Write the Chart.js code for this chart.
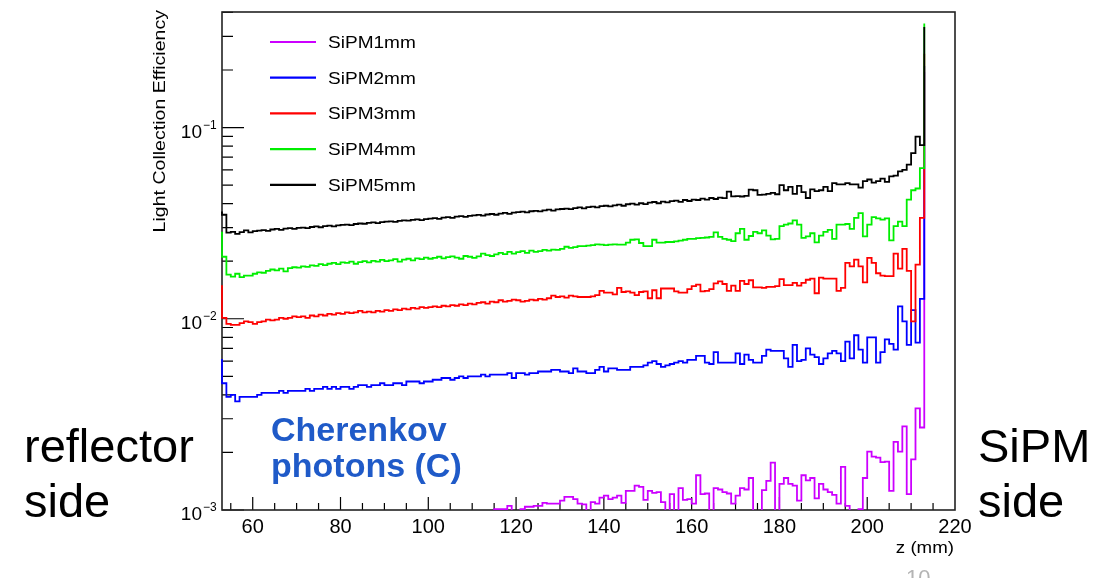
<!DOCTYPE html>
<html>
<head>
<meta charset="utf-8">
<title>Light Collection Efficiency</title>
<script src="https://cdn.jsdelivr.net/npm/chart.js@4.4.1/dist/chart.umd.min.js"></script>
<style>
  html, body { margin: 0; padding: 0; background: #fff; }
  #wrap { position: relative; width: 1102px; height: 578px; overflow: hidden; }
  #lceChart { position: absolute; left: 0; top: 0; }
  .note { position: absolute; font-family: 'Liberation Sans', Arial, sans-serif; white-space: nowrap; color: #000; }
  .side { font-size: 47px; line-height: 55px; }
  .cher { font-size: 34px; line-height: 36px; font-weight: bold; color: #1f5ac8; }
  .page { font-size: 22px; line-height: 22px; color: #b4b4b4; }
</style>
</head>
<body>
<div id="wrap">
  <canvas id="lceChart" width="1102" height="578"></canvas>
  <div class="note side" style="left:24px; top:418px;">reflector<br>side</div>
  <div class="note side" style="left:978px; top:418px;">SiPM<br>side</div>
  <div class="note cher" style="left:271px; top:411px;">Cherenkov<br>photons (C)</div>
  <div class="note page" style="left:906px; top:567px;">10</div>
</div>
<script>
// histogram bins are 1 mm wide, first bin starts at z = 52 mm
const firstEdge = 52;

const seriesNames = ['SiPM1mm', 'SiPM2mm', 'SiPM3mm', 'SiPM4mm', 'SiPM5mm'];
const seriesColors = ['#cc00ff', '#0000ff', '#ff0000', '#00ee00', '#000000'];

const xTickValues = [60, 80, 100, 120, 140, 160, 180, 200, 220];
const yTickValues = [0.001, 0.01, 0.1];

// SiPM1mm (mostly below 1e-3 up to z ~ 115)
const sipm1 = [
  0.00090, 0.00078, 0.00076, 0.00075, 0.00077, 0.00076, 0.00078, 0.00077, 0.00079, 0.00078,
  0.00080, 0.00079, 0.00081, 0.00080, 0.00082, 0.00081, 0.00083, 0.00082, 0.00083, 0.00084,
  0.00083, 0.00085, 0.00084, 0.00086, 0.00085, 0.00087, 0.00086, 0.00088, 0.00087, 0.00088,
  0.00089, 0.00088, 0.00090, 0.00089, 0.00091, 0.00090, 0.00092, 0.00091, 0.00092, 0.00093,
  0.00092, 0.00094, 0.00093, 0.00094, 0.00095, 0.00094, 0.00096, 0.00095, 0.00096, 0.00097,
  0.00096, 0.00097, 0.00098, 0.00097, 0.00098, 0.00099, 0.00098, 0.00099, 0.00098, 0.00099,
  0.00099, 0.00098, 0.00099, 0.00101, 0.00101, 0.00101, 0.00105, 0.00099, 0.00099, 0.00101,
  0.00104, 0.00104, 0.00105, 0.00105, 0.00109, 0.00108, 0.00108, 0.00108, 0.00112, 0.00117,
  0.00117, 0.00114, 0.00108, 0.00107, 0.00098, 0.00110, 0.00108, 0.00116, 0.00119, 0.00114,
  0.00116, 0.00119, 0.00109, 0.00126, 0.00126, 0.00134, 0.00132, 0.00113, 0.00126, 0.00123,
  0.00124, 0.00110, 0.00095, 0.00121, 0.00090, 0.00130, 0.00113, 0.00114, 0.00108, 0.00152,
  0.00121, 0.00122, 0.00090, 0.00130, 0.00128, 0.00124, 0.00122, 0.00108, 0.00119, 0.00130,
  0.00128, 0.00147, 0.00090, 0.00090, 0.00127, 0.00142, 0.00177, 0.00090, 0.00137, 0.00147,
  0.00137, 0.00134, 0.00112, 0.00152, 0.00143, 0.00147, 0.00115, 0.00137, 0.00128, 0.00124,
  0.00120, 0.00108, 0.00168, 0.00105, 0.00090, 0.00098, 0.00101, 0.00147, 0.00202, 0.00190,
  0.00188, 0.00178, 0.00179, 0.00126, 0.00227, 0.00202, 0.00274, 0.00121, 0.00184, 0.00340,
  0.00270, 0.19500
];

const sipm2 = [
  0.0061, 0.0046, 0.0039, 0.0040, 0.0037, 0.0039, 0.0039, 0.0039, 0.0039, 0.0040,
  0.0041, 0.0041, 0.0041, 0.0041, 0.0042, 0.0041, 0.0042, 0.0042, 0.0042, 0.0042,
  0.0043, 0.0042, 0.0043, 0.0043, 0.0044, 0.0043, 0.0044, 0.0043, 0.0044, 0.0044,
  0.0043, 0.0044, 0.0045, 0.0045, 0.0044, 0.0045, 0.0045, 0.0046, 0.0045, 0.0045,
  0.0046, 0.0046, 0.0045, 0.0047, 0.0047, 0.0047, 0.0046, 0.0047, 0.0047, 0.0048,
  0.0048, 0.0049, 0.0049, 0.0048, 0.0049, 0.0050, 0.0049, 0.0050, 0.0050, 0.0050,
  0.0051, 0.0050, 0.0051, 0.0051, 0.0051, 0.0051, 0.0052, 0.0049, 0.0052, 0.0052,
  0.0051, 0.0052, 0.0052, 0.0053, 0.0053, 0.0053, 0.0054, 0.0054, 0.0053, 0.0053,
  0.0052, 0.0055, 0.0053, 0.0053, 0.0052, 0.0052, 0.0054, 0.0056, 0.0053, 0.0055,
  0.0055, 0.0054, 0.0054, 0.0054, 0.0056, 0.0056, 0.0056, 0.0057, 0.0059, 0.0060,
  0.0058, 0.0056, 0.0057, 0.0058, 0.0059, 0.0060, 0.0059, 0.0061, 0.0061, 0.0064,
  0.0064, 0.0059, 0.0058, 0.0067, 0.0059, 0.0059, 0.0059, 0.0059, 0.0066, 0.0058,
  0.0065, 0.0061, 0.0059, 0.0059, 0.0064, 0.0069, 0.0068, 0.0068, 0.0068, 0.0062,
  0.0056, 0.0073, 0.0060, 0.0061, 0.0070, 0.0065, 0.0063, 0.0058, 0.0062, 0.0066,
  0.0068, 0.0066, 0.0060, 0.0076, 0.0062, 0.0082, 0.0069, 0.0059, 0.0080, 0.0080,
  0.0059, 0.0067, 0.0078, 0.0074, 0.0069, 0.0116, 0.0097, 0.0073, 0.0111, 0.0075,
  0.0127, 0.2100
];

const sipm3 = [
  0.0148, 0.0101, 0.0094, 0.0093, 0.0093, 0.0095, 0.0097, 0.0096, 0.0094, 0.0096,
  0.0097, 0.0099, 0.0098, 0.0099, 0.0101, 0.0100, 0.0101, 0.0103, 0.0102, 0.0103,
  0.0101, 0.0104, 0.0103, 0.0105, 0.0104, 0.0106, 0.0105, 0.0107, 0.0106, 0.0108,
  0.0107, 0.0108, 0.0110, 0.0108, 0.0109, 0.0108, 0.0110, 0.0109, 0.0111, 0.0110,
  0.0112, 0.0111, 0.0113, 0.0112, 0.0114, 0.0113, 0.0115, 0.0114, 0.0115, 0.0116,
  0.0115, 0.0117, 0.0116, 0.0118, 0.0117, 0.0119, 0.0118, 0.0120, 0.0119, 0.0121,
  0.0122, 0.0120, 0.0123, 0.0122, 0.0125, 0.0123, 0.0124, 0.0126, 0.0125, 0.0123,
  0.0124, 0.0126, 0.0125, 0.0127, 0.0126, 0.0128, 0.0132, 0.0130, 0.0131, 0.0129,
  0.0132, 0.0131, 0.0130, 0.0130, 0.0130, 0.0131, 0.0133, 0.0140, 0.0137, 0.0137,
  0.0134, 0.0145, 0.0138, 0.0139, 0.0137, 0.0133, 0.0138, 0.0139, 0.0128, 0.0141,
  0.0128, 0.0144, 0.0144, 0.0144, 0.0139, 0.0137, 0.0137, 0.0143, 0.0148, 0.0151,
  0.0139, 0.0140, 0.0143, 0.0153, 0.0157, 0.0152, 0.0140, 0.0149, 0.0140, 0.0158,
  0.0152, 0.0159, 0.0146, 0.0146, 0.0145, 0.0147, 0.0147, 0.0148, 0.0161, 0.0150,
  0.0150, 0.0154, 0.0149, 0.0154, 0.0160, 0.0162, 0.0136, 0.0164, 0.0162, 0.0162,
  0.0162, 0.0140, 0.0145, 0.0196, 0.0188, 0.0204, 0.0188, 0.0155, 0.0208, 0.0196,
  0.0173, 0.0168, 0.0167, 0.0167, 0.0219, 0.0183, 0.0232, 0.0178, 0.0097, 0.0192,
  0.0337, 0.2430
];

const sipm4 = [
  0.0282, 0.0211, 0.0170, 0.0166, 0.0172, 0.0165, 0.0168, 0.0168, 0.0172, 0.0175,
  0.0174, 0.0178, 0.0181, 0.0179, 0.0183, 0.0177, 0.0184, 0.0186, 0.0185, 0.0188,
  0.0187, 0.0190, 0.0189, 0.0193, 0.0191, 0.0194, 0.0196, 0.0193, 0.0197, 0.0196,
  0.0199, 0.0194, 0.0198, 0.0200, 0.0197, 0.0201, 0.0199, 0.0203, 0.0200, 0.0202,
  0.0205, 0.0199, 0.0204, 0.0206, 0.0202, 0.0207, 0.0205, 0.0209, 0.0206, 0.0208,
  0.0211, 0.0207, 0.0210, 0.0212, 0.0209, 0.0206, 0.0213, 0.0211, 0.0208, 0.0212,
  0.0219, 0.0215, 0.0213, 0.0217, 0.0221, 0.0218, 0.0224, 0.0219, 0.0223, 0.0226,
  0.0221, 0.0227, 0.0224, 0.0226, 0.0229, 0.0227, 0.0230, 0.0229, 0.0232, 0.0238,
  0.0235, 0.0237, 0.0240, 0.0240, 0.0241, 0.0243, 0.0245, 0.0244, 0.0243, 0.0244,
  0.0245, 0.0244, 0.0244, 0.0250, 0.0259, 0.0260, 0.0249, 0.0240, 0.0240, 0.0259,
  0.0250, 0.0250, 0.0252, 0.0252, 0.0254, 0.0256, 0.0259, 0.0262, 0.0262, 0.0264,
  0.0265, 0.0266, 0.0268, 0.0283, 0.0268, 0.0262, 0.0259, 0.0255, 0.0280, 0.0295,
  0.0259, 0.0271, 0.0285, 0.0280, 0.0290, 0.0272, 0.0260, 0.0262, 0.0305, 0.0311,
  0.0315, 0.0327, 0.0311, 0.0265, 0.0270, 0.0280, 0.0251, 0.0272, 0.0285, 0.0292,
  0.0262, 0.0311, 0.0311, 0.0313, 0.0295, 0.0337, 0.0357, 0.0270, 0.0311, 0.0340,
  0.0335, 0.0330, 0.0335, 0.0257, 0.0305, 0.0322, 0.0305, 0.0420, 0.0470, 0.0480,
  0.0614, 0.3500
];

const sipm5 = [
  0.0360, 0.0350, 0.0282, 0.0285, 0.0278, 0.0284, 0.0290, 0.0283, 0.0287, 0.0289,
  0.0291, 0.0288, 0.0293, 0.0295, 0.0292, 0.0296, 0.0298, 0.0295, 0.0299, 0.0300,
  0.0298, 0.0302, 0.0304, 0.0301, 0.0305, 0.0307, 0.0304, 0.0308, 0.0310, 0.0311,
  0.0309, 0.0313, 0.0315, 0.0314, 0.0317, 0.0319, 0.0316, 0.0320, 0.0322, 0.0323,
  0.0321, 0.0325, 0.0327, 0.0326, 0.0329, 0.0331, 0.0328, 0.0332, 0.0334, 0.0336,
  0.0333, 0.0338, 0.0340, 0.0337, 0.0342, 0.0344, 0.0341, 0.0345, 0.0347, 0.0349,
  0.0346, 0.0351, 0.0353, 0.0350, 0.0355, 0.0358, 0.0354, 0.0359, 0.0361, 0.0363,
  0.0360, 0.0365, 0.0367, 0.0364, 0.0369, 0.0372, 0.0368, 0.0373, 0.0375, 0.0377,
  0.0374, 0.0379, 0.0382, 0.0378, 0.0384, 0.0386, 0.0382, 0.0388, 0.0390, 0.0387,
  0.0392, 0.0395, 0.0390, 0.0397, 0.0400, 0.0395, 0.0402, 0.0398, 0.0405, 0.0408,
  0.0402, 0.0410, 0.0406, 0.0412, 0.0415, 0.0409, 0.0418, 0.0413, 0.0420, 0.0418,
  0.0425, 0.0420, 0.0428, 0.0423, 0.0430, 0.0427, 0.0462, 0.0437, 0.0438, 0.0436,
  0.0439, 0.0473, 0.0470, 0.0445, 0.0446, 0.0450, 0.0455, 0.0448, 0.0500, 0.0470,
  0.0490, 0.0450, 0.0495, 0.0460, 0.0428, 0.0475, 0.0465, 0.0470, 0.0490, 0.0465,
  0.0512, 0.0505, 0.0505, 0.0512, 0.0505, 0.0505, 0.0485, 0.0525, 0.0535, 0.0515,
  0.0525, 0.0540, 0.0520, 0.0555, 0.0560, 0.0590, 0.0600, 0.0640, 0.0735, 0.0897,
  0.0810, 0.3360
];

const seriesValues = [sipm1, sipm2, sipm3, sipm4, sipm5];

// one point per bin left edge, closed by an empty bin after the last one
function histPoints(values) {
  const pts = values.map((v, i) => ({ x: firstEdge + i, y: v }));
  pts.push({ x: firstEdge + values.length, y: 0 });
  return pts;
}

const FONT = "'Liberation Sans', Arial, Helvetica, sans-serif";
Chart.defaults.font.family = FONT;
Chart.defaults.color = '#000';

function stretchedText(ctx, text, x, y, sx) {
  ctx.save();
  ctx.translate(x, y);
  ctx.scale(sx, 1);
  ctx.fillText(text, 0, 0);
  ctx.restore();
}

const rootFrame = {
  id: 'rootFrame',
  beforeDatasetsDraw(chart) {
    const { ctx, chartArea: a, scales: { x, y } } = chart;
    ctx.save();
    ctx.strokeStyle = '#000';
    ctx.lineWidth = 1.2;
    ctx.beginPath();
    yTickValues.forEach(v => {
      const py = y.getPixelForValue(v);
      ctx.moveTo(a.left, py);
      ctx.lineTo(a.left + 22, py);
      for (let m = 2; m <= 9; m++) {
        if (v * m > y.max) break;
        const pm = y.getPixelForValue(v * m);
        ctx.moveTo(a.left, pm);
        ctx.lineTo(a.left + 11, pm);
      }
    });
    for (let v = Math.ceil(x.min / 5) * 5; v < x.max; v += 5) {
      const px = x.getPixelForValue(v);
      const len = v % 20 === 0 ? 13 : 7;
      ctx.moveTo(px, a.bottom);
      ctx.lineTo(px, a.bottom - len);
    }
    ctx.stroke();
    ctx.lineWidth = 1.6;
    ctx.strokeStyle = '#222';
    ctx.strokeRect(a.left, a.top, a.right - a.left, a.bottom - a.top);
    ctx.restore();
  },
  afterDraw(chart) {
    const { ctx, chartArea: a, scales: { y } } = chart;
    ctx.save();
    ctx.fillStyle = '#000';

    // y labels as 10^n
    yTickValues.forEach(v => {
      const py = y.getPixelForValue(v);
      const exp = Math.round(Math.log10(v));
      ctx.font = '19px ' + FONT;
      ctx.textAlign = 'right';
      ctx.textBaseline = 'alphabetic';
      ctx.fillText('10', a.left - 20, py + 10);
      ctx.font = '12px ' + FONT;
      ctx.textAlign = 'left';
      ctx.fillText('\u2212' + Math.abs(exp), a.left - 19, py + 1);
    });

    // axis titles
    ctx.font = '17px ' + FONT;
    ctx.textAlign = 'right';
    ctx.save();
    ctx.translate(a.left - 57, a.top - 2);
    ctx.rotate(-Math.PI / 2);
    stretchedText(ctx, 'Light Collection Efficiency', 0, 0, 1.15);
    ctx.restore();
    stretchedText(ctx, 'z (mm)', a.right - 1, a.bottom + 43, 1.1);

    // legend
    ctx.textAlign = 'left';
    chart.data.datasets.forEach((ds, i) => {
      const ly = a.top + 30 + i * 35.7;
      ctx.strokeStyle = ds.borderColor;
      ctx.lineWidth = 2.2;
      ctx.beginPath();
      ctx.moveTo(a.left + 48, ly);
      ctx.lineTo(a.left + 94, ly);
      ctx.stroke();
      stretchedText(ctx, ds.label, a.left + 106, ly + 6, 1.12);
    });
    ctx.restore();
  }
};

const ctx = document.getElementById('lceChart').getContext('2d');
const chart = new Chart(ctx, {
  type: 'line',
  data: {
    datasets: seriesNames.map((name, i) => ({
      label: name,
      data: histPoints(seriesValues[i]),
      borderColor: seriesColors[i],
      borderWidth: 1.8,
      pointRadius: 0,
      stepped: true,
      fill: false,
      order: seriesNames.length - 1 - i,
      clip: { left: 1, top: 2, right: 2, bottom: 0 }
    }))
  },
  options: {
    responsive: false,
    animation: false,
    devicePixelRatio: 1,
    layout: { padding: { left: 0, right: 147, top: 12, bottom: 0 } },
    plugins: { legend: { display: false }, tooltip: { enabled: false } },
    scales: {
      x: {
        type: 'linear',
        min: 53,
        max: 220,
        grid: { display: false, drawTicks: false },
        border: { display: false },
        afterBuildTicks: s => { s.ticks = xTickValues.map(v => ({ value: v })); },
        afterFit: s => { s.height = 68; },
        ticks: {
          autoSkip: false,
          maxRotation: 0,
          padding: 5,
          font: { size: 20 },
          color: '#000',
          callback: v => String(v)
        }
      },
      y: {
        type: 'logarithmic',
        min: 0.001,
        max: 0.402,
        grid: { display: false, drawTicks: false },
        border: { display: false },
        afterBuildTicks: s => { s.ticks = yTickValues.map(v => ({ value: v })); },
        afterFit: s => { s.width = 222; },
        ticks: { display: false }
      }
    }
  },
  plugins: [rootFrame]
});
</script>
</body>
</html>
